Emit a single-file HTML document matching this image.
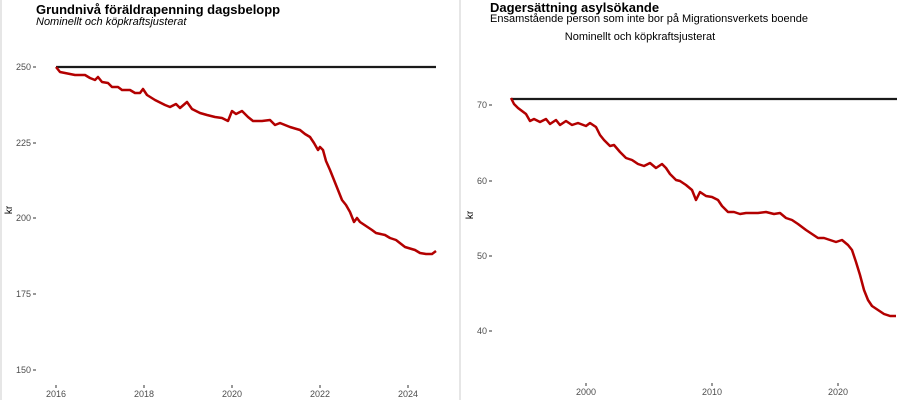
<!DOCTYPE html>
<html><head><meta charset="utf-8"><style>
body{margin:0;width:920px;height:400px;background:#fff;overflow:hidden}
text{font-family:"Liberation Sans",sans-serif}
</style></head><body>
<svg width="920" height="400" xmlns="http://www.w3.org/2000/svg">
<rect x="0" y="0" width="2" height="400" fill="#e6e6e6"/>
<rect x="459" y="0" width="2" height="400" fill="#e6e6e6"/>
<!-- left -->
<text x="36" y="14" font-size="13" font-weight="bold">Grundnivå föräldrapenning dagsbelopp</text>
<text x="36" y="25" font-size="11" font-style="italic">Nominellt och köpkraftsjusterat</text>
<g font-size="9" fill="#4d4d4d" text-anchor="end">
<text x="31" y="70">250</text><text x="31" y="146">225</text><text x="31" y="221">200</text><text x="31" y="297">175</text><text x="31" y="373">150</text>
</g>
<g stroke="#333" stroke-width="1"><line x1="33" x2="36" y1="67" y2="67"/><line x1="33" x2="36" y1="143" y2="143"/><line x1="33" x2="36" y1="218" y2="218"/><line x1="33" x2="36" y1="294" y2="294"/><line x1="33" x2="36" y1="370" y2="370"/>
<line x1="56" x2="56" y1="385" y2="388"/><line x1="144" x2="144" y1="385" y2="388"/><line x1="232" x2="232" y1="385" y2="388"/><line x1="320" x2="320" y1="385" y2="388"/><line x1="408" x2="408" y1="385" y2="388"/></g>
<g font-size="9" fill="#4d4d4d" text-anchor="middle">
<text x="56" y="397">2016</text><text x="144" y="397">2018</text><text x="232" y="397">2020</text><text x="320" y="397">2022</text><text x="408" y="397">2024</text>
</g>
<text x="12" y="210" font-size="10" transform="rotate(-90 12 210)" text-anchor="middle">kr</text>
<line x1="56" x2="436" y1="67" y2="67" stroke="#1a1a1a" stroke-width="2.2"/>
<polyline fill="none" stroke="#b30000" stroke-width="2.5" stroke-linejoin="round" points="56,67 60,72 65,73 75,75 85,75 90,78 95,80 98,77 102,82 108,83 112,87 118,87 122,90 130,90 135,93 140,93 143,89 147,95 155,100 165,105 170,107 176,104 180,108 187,102 192,109 200,113 207,115 215,117 222,118 228,121 232,111 236,114 242,111 248,117 253,121 262,121 270,120 275,125 280,123 290,127 300,130 305,134 310,137 314,143 318,150 320,147 323,150 326,161 330,170 334,180 338,190 342,200 346,205 350,212 354,222 357,218 360,222 366,226 372,230 376,233 385,235 390,238 396,240 405,247 415,250 420,253 426,254 432,254 436,251"/>
<!-- right -->
<text x="490" y="12" font-size="13" font-weight="bold">Dagersättning asylsökande</text>
<text x="490" y="22" font-size="11">Ensamstående person som inte bor på Migrationsverkets boende</text>
<text x="640" y="40" font-size="11" text-anchor="middle">Nominellt och köpkraftsjusterat</text>
<g font-size="9" fill="#4d4d4d" text-anchor="end">
<text x="487" y="108">70</text><text x="487" y="184">60</text><text x="487" y="259">50</text><text x="487" y="334">40</text>
</g>
<g stroke="#333" stroke-width="1"><line x1="489" x2="492" y1="105" y2="105"/><line x1="489" x2="492" y1="181" y2="181"/><line x1="489" x2="492" y1="256" y2="256"/><line x1="489" x2="492" y1="331" y2="331"/>
<line x1="586" x2="586" y1="383" y2="386"/><line x1="712" x2="712" y1="383" y2="386"/><line x1="838" x2="838" y1="383" y2="386"/></g>
<g font-size="9" fill="#4d4d4d" text-anchor="middle">
<text x="586" y="395">2000</text><text x="712" y="395">2010</text><text x="838" y="395">2020</text>
</g>
<text x="473" y="215" font-size="10" transform="rotate(-90 473 215)" text-anchor="middle">kr</text>
<line x1="511" x2="897" y1="99" y2="99" stroke="#1a1a1a" stroke-width="2.2"/>
<polyline fill="none" stroke="#b30000" stroke-width="2.5" stroke-linejoin="round" points="511,98 514,104 518,108 522,111 526,114 530,121 534,119 540,122 546,119 550,124 556,120 560,125 566,121 572,125 578,123 586,126 590,123 596,127 600,135 604,140 610,146 614,145 620,152 626,158 632,160 638,164 644,166 650,163 656,168 662,164 666,168 670,174 676,180 680,181 686,185 692,190 696,200 700,192 706,196 712,197 718,200 722,206 728,212 734,212 740,214 746,213 752,213 758,213 766,212 774,214 780,213 786,218 792,220 798,224 806,230 812,234 818,238 824,238 830,240 836,242 842,240 848,245 852,250 856,262 860,275 864,290 868,300 872,306 878,310 884,314 890,316 896,316"/>
</svg>
</body></html>
